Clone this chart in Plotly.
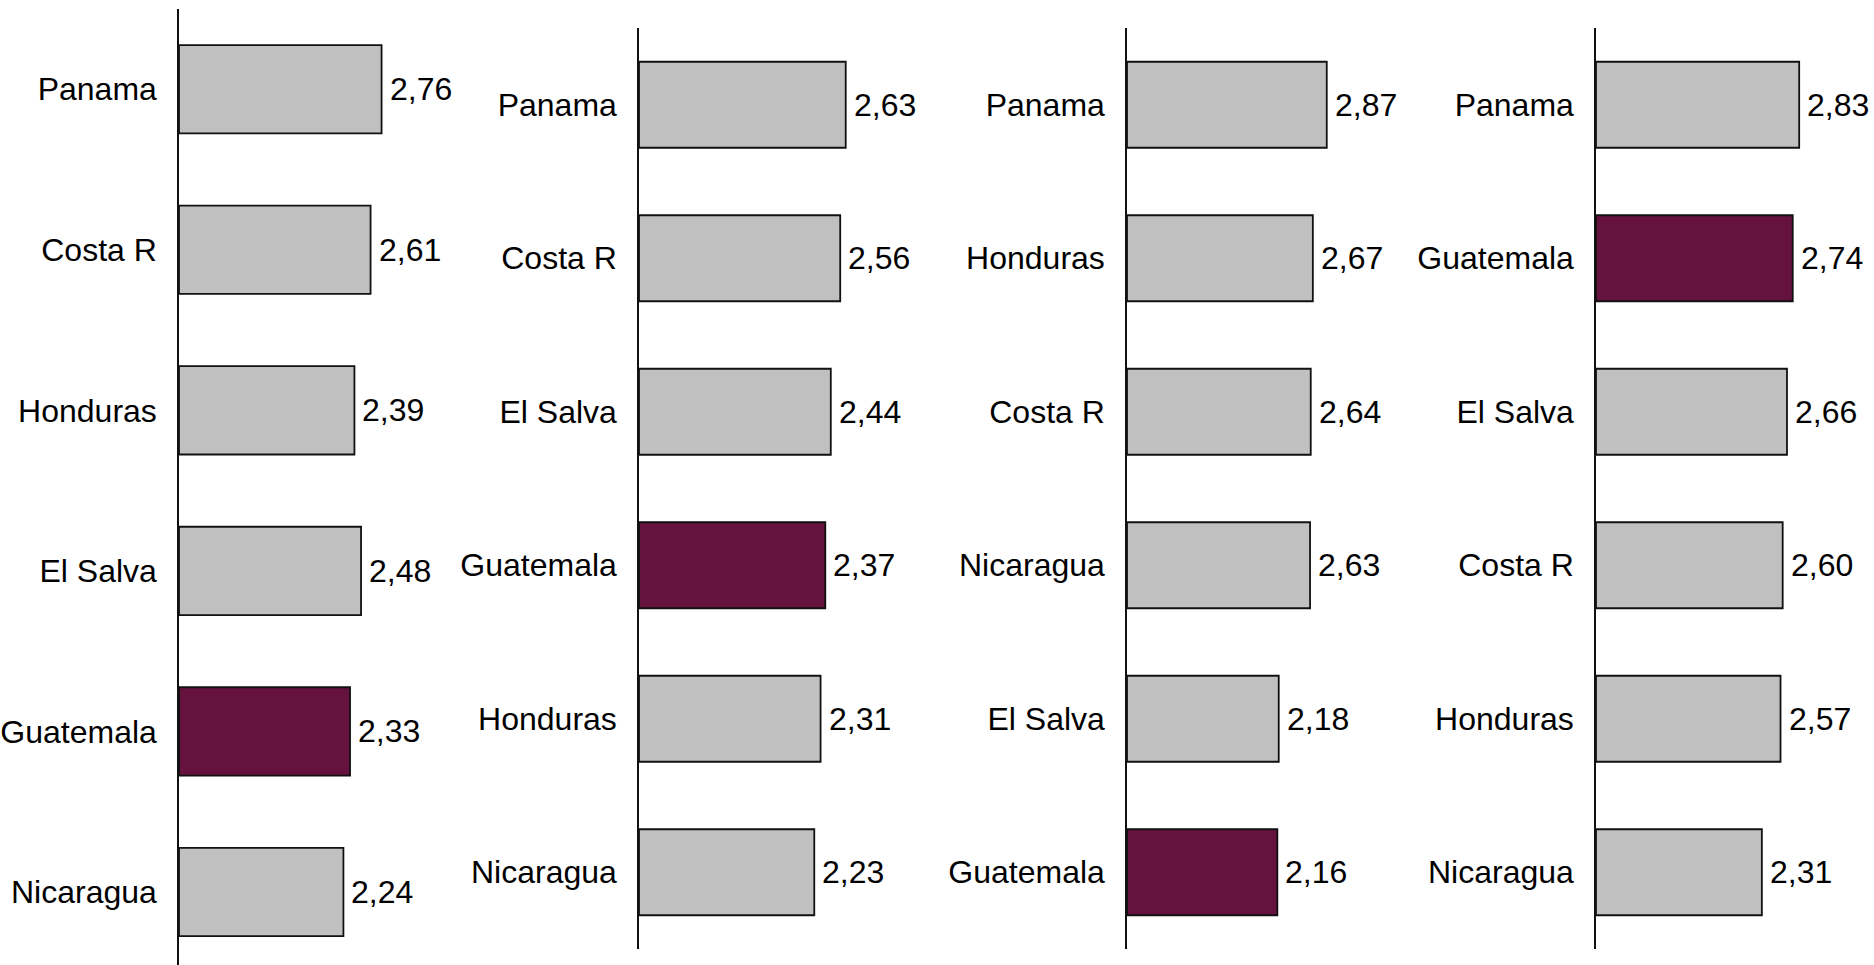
import plotly.graph_objects as go

# ---- data ----
cats1 = ["Panama", "Costa R", "Honduras", "El Salva", "Guatemala", "Nicaragua"]
vals1 = [2.76, 2.61, 2.39, 2.48, 2.33, 2.24]

cats2 = ["Panama", "Costa R", "El Salva", "Guatemala", "Honduras", "Nicaragua"]
vals2 = [2.63, 2.56, 2.44, 2.37, 2.31, 2.23]

cats3 = ["Panama", "Honduras", "Costa R", "Nicaragua", "El Salva", "Guatemala"]
vals3 = [2.87, 2.67, 2.64, 2.63, 2.18, 2.16]

cats4 = ["Panama", "Guatemala", "El Salva", "Costa R", "Honduras", "Nicaragua"]
vals4 = [2.83, 2.74, 2.66, 2.60, 2.57, 2.31]

highlight = "Guatemala"

# ---- styling / layout ----
W, H = 1874, 965
GRAY = "#C0C0C0"
MAROON = "#66123E"
FONT = "Arial, Liberation Sans, sans-serif"
FS = 32


def px_x(v):
    return v / W


def px_y(v):
    return 1 - v / H


# per panel: axis x px, right end px, px per unit, y top px, y bottom px, y range, bar width
panels = [
    dict(cats=cats1, vals=vals1, x0=179, x1=440, ppu=73.4, ytop=9, ybot=965, yr=[5.455, -0.5], bw=0.55),
    dict(cats=cats2, vals=vals2, x0=639, x1=930, ppu=78.6, ytop=28, ybot=949, yr=[5.5, -0.5], bw=0.56),
    dict(cats=cats3, vals=vals3, x0=1127, x1=1410, ppu=69.6, ytop=28, ybot=949, yr=[5.5, -0.5], bw=0.56),
    dict(cats=cats4, vals=vals4, x0=1596, x1=1874, ppu=71.8, ytop=28, ybot=949, yr=[5.5, -0.5], bw=0.56),
]

fig = go.Figure()
annotations = []
for i, p in enumerate(panels, start=1):
    xa = "x" if i == 1 else f"x{i}"
    ya = "y" if i == 1 else f"y{i}"
    colors = [MAROON if c == highlight else GRAY for c in p["cats"]]
    fig.add_trace(go.Bar(
        x=p["vals"], y=p["cats"], orientation="h",
        width=p["bw"],
        marker=dict(color=colors, line=dict(color="#111111", width=1.8)),
        xaxis=xa, yaxis=ya, showlegend=False, hoverinfo="skip",
    ))
    for c, v in zip(p["cats"], p["vals"]):
        annotations.append(dict(
            x=v, y=c, xref=xa, yref=ya, text=f"{v:.2f}".replace(".", ","),
            showarrow=False, xanchor="left", yanchor="middle", xshift=6,
            font=dict(family=FONT, size=FS, color="#000000"),
        ))
    xkey = "xaxis" if i == 1 else f"xaxis{i}"
    ykey = "yaxis" if i == 1 else f"yaxis{i}"
    fig.update_layout(**{
        xkey: dict(domain=[px_x(p["x0"]), min(1, px_x(p["x1"]))], range=[0, (p["x1"] - p["x0"]) / p["ppu"]],
                   visible=False, anchor=ya, automargin=False),
        ykey: dict(domain=[max(0, px_y(p["ybot"])), px_y(p["ytop"])], range=p["yr"],
                   type="category", anchor=xa, showline=True, linecolor="#111111", linewidth=1.5,
                   showgrid=False, zeroline=False, ticks="", ticklabelstandoff=14, automargin=False,
                   tickfont=dict(family=FONT, size=FS, color="#000000")),
    })

fig.update_layout(
    width=W, height=H,
    margin=dict(l=0, r=0, t=0, b=0, autoexpand=False),
    paper_bgcolor="white", plot_bgcolor="white",
    annotations=annotations,
)

fig.write_html(
    "out.html",
    config={"displayModeBar": False},
    post_script="document.body.style.margin='0';document.body.style.overflow='hidden';",
)
